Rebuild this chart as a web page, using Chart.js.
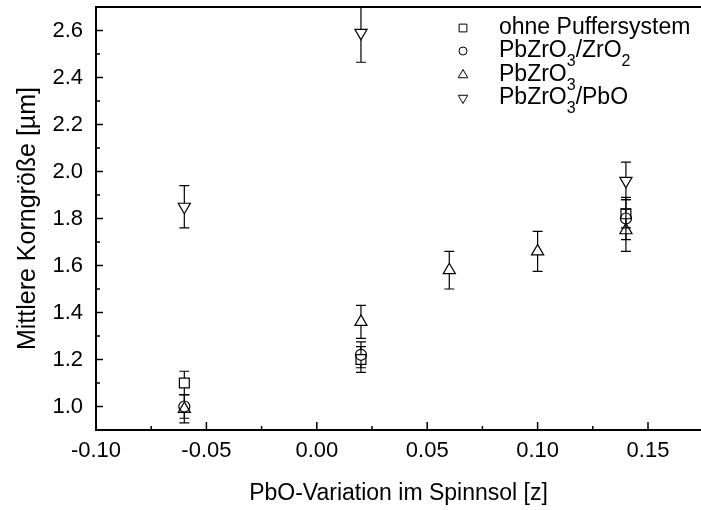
<!DOCTYPE html>
<html>
<head>
<meta charset="utf-8">
<script src="https://cdn.jsdelivr.net/npm/chart.js@4/dist/chart.umd.min.js"></script>
<style>
  html, body { margin: 0; padding: 0; background: #fff; }
  #chart { display: block; }
</style>
</head>
<body>
<canvas id="chart" width="701" height="510"></canvas>
<script>
// grain size vs. PbO variation, one series per buffer system
const zOhne = [-0.06, 0.02, 0.14];
const ohne = [1.10, 1.20, 1.82];
const ohneErr = [0.05, 0.055, 0.06];

const zZrO2 = [-0.06, 0.02, 0.14];
const zro2 = [1.00, 1.22, 1.80];
const zro2Err = [0.05, 0.055, 0.09];

const zPbZrO3 = [-0.06, 0.02, 0.06, 0.10, 0.14];
const pbzro3 = [0.99, 1.36, 1.58, 1.66, 1.75];
const pbzro3Err = [0.06, 0.07, 0.08, 0.085, 0.09];

const zPbO = [-0.06, 0.02, 0.14];
const pbo = [1.85, 2.59, 1.96];
const pboErr = [0.09, 0.125, 0.08];

// "_" marks a subscript digit
const seriesNames = ['ohne Puffersystem', 'PbZrO_3/ZrO_2', 'PbZrO_3', 'PbZrO_3/PbO'];

const xTicks = [-0.10, -0.05, 0.00, 0.05, 0.10, 0.15];
const yTicks = [1.0, 1.2, 1.4, 1.6, 1.8, 2.0, 2.2, 2.4, 2.6];

const FONT = "'Liberation Sans', Arial, sans-serif";

function toPoints(xs, ys) {
    return xs.map((x, i) => ({ x: x, y: ys[i] }));
}

function makeSet(label, xs, ys, errs, style, radius, rotation) {
    return {
        label: label,
        data: toPoints(xs, ys),
        errors: errs,
        pointStyle: style,
        pointRadius: radius,
        pointHoverRadius: radius,
        rotation: rotation || 0,
        borderColor: '#000',
        backgroundColor: 'rgba(0,0,0,0)',
        pointBorderWidth: 1.2,
        showLine: false
    };
}

// half height of a marker above and below its centre, so error bars stop at the outline
function markerGap(ds) {
    const r = ds.pointRadius;
    if (ds.pointStyle === 'rect') return [r * Math.SQRT1_2, r * Math.SQRT1_2];
    if (ds.pointStyle === 'triangle') {
        return ds.rotation === 180 ? [r / 2, r] : [r, r / 2];
    }
    return [r, r];
}

function minorValues(major) {
    const step = major[1] - major[0];
    const out = [major[0] - step / 2];
    major.forEach(v => out.push(v + step / 2));
    return out;
}

const errorBars = {
    id: 'errorBars',
    afterDatasetsDraw(chart) {
        const ctx = chart.ctx;
        const yScale = chart.scales.y;
        const area = chart.chartArea;
        ctx.save();
        ctx.beginPath();
        ctx.rect(area.left, area.top, area.right - area.left, area.bottom - area.top);
        ctx.clip();
        ctx.strokeStyle = '#000';
        ctx.lineWidth = 1.2;
        chart.data.datasets.forEach((ds, i) => {
            const meta = chart.getDatasetMeta(i);
            const gap = markerGap(ds);
            meta.data.forEach((pt, j) => {
                const v = ds.data[j].y;
                const e = ds.errors[j];
                const yTop = yScale.getPixelForValue(v + e);
                const yBot = yScale.getPixelForValue(v - e);
                ctx.beginPath();
                ctx.moveTo(pt.x, yTop);
                ctx.lineTo(pt.x, pt.y - gap[0]);
                ctx.moveTo(pt.x, pt.y + gap[1]);
                ctx.lineTo(pt.x, yBot);
                ctx.moveTo(pt.x - 5, yTop);
                ctx.lineTo(pt.x + 5, yTop);
                ctx.moveTo(pt.x - 5, yBot);
                ctx.lineTo(pt.x + 5, yBot);
                ctx.stroke();
            });
        });
        ctx.restore();
    }
};

// inward tick marks, top frame line and the legend with subscripts
const frame = {
    id: 'frame',
    afterDraw(chart) {
        const ctx = chart.ctx;
        const area = chart.chartArea;
        const xs = chart.scales.x;
        const ys = chart.scales.y;
        ctx.save();
        ctx.strokeStyle = '#000';
        ctx.lineWidth = 1.5;
        ctx.beginPath();
        xTicks.forEach(v => {
            const px = xs.getPixelForValue(v);
            ctx.moveTo(px, area.bottom);
            ctx.lineTo(px, area.bottom - 8);
        });
        minorValues(xTicks).forEach(v => {
            const px = xs.getPixelForValue(v);
            if (px < area.left || px > area.right) return;
            ctx.moveTo(px, area.bottom);
            ctx.lineTo(px, area.bottom - 4);
        });
        yTicks.forEach(v => {
            const py = ys.getPixelForValue(v);
            ctx.moveTo(area.left, py);
            ctx.lineTo(area.left + 7, py);
        });
        minorValues(yTicks).forEach(v => {
            const py = ys.getPixelForValue(v);
            if (py < area.top || py > area.bottom) return;
            ctx.moveTo(area.left, py);
            ctx.lineTo(area.left + 4, py);
        });
        ctx.stroke();

        ctx.lineWidth = 2;
        ctx.beginPath();
        ctx.moveTo(area.left - 1, area.top);
        ctx.lineTo(chart.width, area.top);
        ctx.stroke();

        // legend
        const rows = [28, 51, 75, 98];
        ctx.textBaseline = 'middle';
        ctx.textAlign = 'left';
        chart.data.datasets.forEach((ds, i) => {
            const y = rows[i];
            ctx.fillStyle = 'rgba(0,0,0,0)';
            ctx.lineWidth = 1;
            Chart.helpers.drawPoint(ctx, {
                pointStyle: ds.pointStyle,
                rotation: ds.rotation,
                radius: ds.pointRadius - 1.5,
                borderWidth: 1
            }, 463, y);
            ctx.fillStyle = '#000';
            let x = 499;
            seriesNames[i].split('_').forEach((part, k) => {
                let text = part;
                if (k > 0) {
                    const sub = part.charAt(0);
                    ctx.font = '16px ' + FONT;
                    ctx.fillText(sub, x, y + 11);
                    x += ctx.measureText(sub).width;
                    text = part.slice(1);
                }
                ctx.font = '23px ' + FONT;
                ctx.fillText(text, x, y);
                x += ctx.measureText(text).width;
            });
        });
        ctx.restore();
    }
};

new Chart(document.getElementById('chart'), {
    type: 'scatter',
    data: {
        datasets: [
            makeSet(seriesNames[0], zOhne, ohne, ohneErr, 'rect', 7),
            makeSet(seriesNames[1], zZrO2, zro2, zro2Err, 'circle', 5.5),
            makeSet(seriesNames[2], zPbZrO3, pbzro3, pbzro3Err, 'triangle', 7),
            makeSet(seriesNames[3], zPbO, pbo, pboErr, 'triangle', 7, 180)
        ]
    },
    options: {
        responsive: false,
        animation: false,
        layout: { autoPadding: false, padding: { top: 7, right: 0, left: 0, bottom: 0 } },
        plugins: {
            legend: { display: false },
            tooltip: { enabled: false }
        },
        scales: {
            x: {
                type: 'linear',
                min: -0.10,
                max: 0.174,
                afterFit(scale) {
                    scale.height = 80;
                    scale.paddingLeft = 0;
                    scale.paddingRight = 0;
                },
                afterBuildTicks(scale) { scale.ticks = xTicks.map(v => ({ value: v })); },
                grid: { drawOnChartArea: false, drawTicks: false },
                border: { display: true, color: '#000', width: 2 },
                ticks: {
                    padding: 8,
                    color: '#000',
                    font: { family: FONT, size: 22 },
                    maxRotation: 0,
                    callback: v => v.toFixed(2)
                },
                title: {
                    display: true,
                    text: 'PbO-Variation im Spinnsol [z]',
                    color: '#000',
                    font: { family: FONT, size: 23 },
                    padding: { top: 0, bottom: 3 }
                }
            },
            y: {
                type: 'linear',
                min: 0.9,
                max: 2.7,
                afterFit(scale) {
                    scale.width = 96;
                    scale.paddingTop = 0;
                    scale.paddingBottom = 0;
                },
                afterBuildTicks(scale) { scale.ticks = yTicks.map(v => ({ value: v })); },
                grid: { drawOnChartArea: false, drawTicks: false },
                border: { display: true, color: '#000', width: 2 },
                ticks: {
                    padding: 13,
                    color: '#000',
                    font: { family: FONT, size: 22 },
                    callback: v => v.toFixed(1)
                },
                title: {
                    display: true,
                    text: 'Mittlere Korngröße [µm]',
                    color: '#000',
                    font: { family: FONT, size: 25 },
                    padding: { top: 13, bottom: 0 }
                }
            }
        }
    },
    plugins: [errorBars, frame]
});
</script>
</body>
</html>
